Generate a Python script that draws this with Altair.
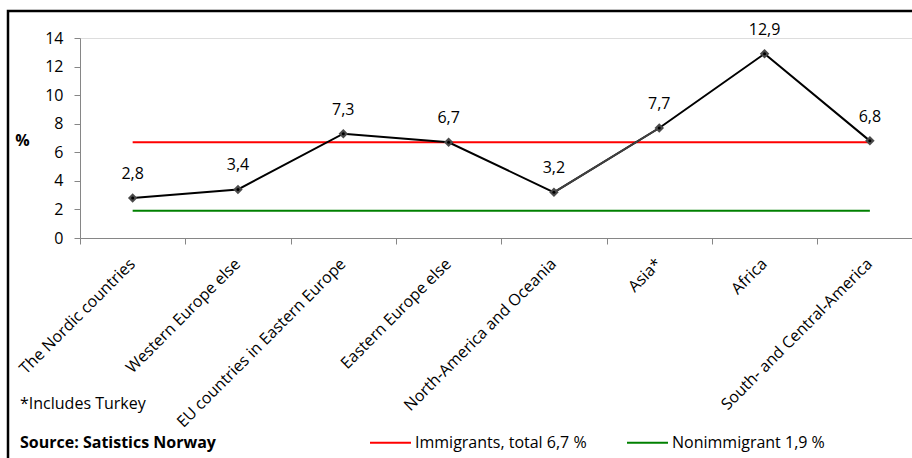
import altair as alt
import pandas as pd

# Share of each origin group (percent)
regions = [
    "The Nordic countries",
    "Western Europe else",
    "EU countries in Eastern Europe",
    "Eastern Europe else",
    "North-America and Oceania",
    "Asia*",
    "Africa",
    "South- and Central-America",
]
values = [2.8, 3.4, 7.3, 6.7, 3.2, 7.7, 12.9, 6.8]
y_ticks = [0, 2, 4, 6, 8, 10, 12, 14]

# Reference levels
ref_names = ["Immigrants, total 6,7 %", "Nonimmigrant 1,9 %"]
ref_values = [6.7, 1.9]
ref_colors = ["#ff0000", "#008000"]

FONT = "Open Sans"
FS = 16
W, H = 832, 200

pts = pd.DataFrame({
    "pos": [i + 0.5 for i in range(len(regions))],
    "region": regions,
    "value": values,
    "label": [f"{v:.1f}".replace(".", ",") for v in values],
})
refs = pd.DataFrame({
    "name": ref_names,
    "value": ref_values,
    "start": [0.5] * len(ref_names),
    "end": [len(regions) - 0.5] * len(ref_names),
})

label_expr = "[" + ",".join(f"'{r}'" for r in regions) + "][datum.value]"

x_scale = alt.Scale(domain=[0, 7.9], nice=False, zero=False)
y_scale = alt.Scale(domain=[0, 14], nice=False)

x_axis = alt.Axis(
    values=list(range(len(regions))),
    labelExpr=label_expr,
    labelOffset=52,
    labelAngle=-45,
    labelAlign="right",
    labelBaseline="middle",
    labelPadding=17,
    labelFontSize=FS,
    labelFont=FONT,
    labelColor="#000000",
    labelOverlap=False,
    labelBound=False,
    labelFlush=False,
    labelLimit=0,
    tickSize=6,
    tickColor="#868686",
    domainColor="#868686",
    grid=False,
    title=None,
)
y_axis = alt.Axis(
    values=y_ticks,
    tickCount=len(y_ticks),
    tickSize=6,
    tickColor="#868686",
    domainColor="#868686",
    labelFontSize=FS,
    labelFont=FONT,
    labelColor="#000000",
    labelPadding=11,
    labelOverlap=False,
    labelFlush=False,
    labelBound=False,
    grid=False,
    title="%",
    titleAngle=0,
    titleX=-58,
    titleY=102,
    titleAlign="center",
    titleBaseline="middle",
    titleFont=FONT,
    titleFontSize=FS,
    titleFontWeight="bold",
)

X = lambda f: alt.X(f, scale=x_scale, axis=x_axis)
Y = lambda f: alt.Y(f, scale=y_scale, axis=y_axis)

base = alt.Chart(pts)

ref_rules = alt.Chart(refs).mark_rule(strokeWidth=2).encode(
    x=X("start:Q"),
    x2="end:Q",
    y=Y("value:Q"),
    color=alt.Color(
        "name:N",
        scale=alt.Scale(domain=ref_names, range=ref_colors),
        legend=alt.Legend(
            orient="none",
            legendX=289,
            legendY=383,
            direction="horizontal",
            title=None,
            symbolType="stroke",
            symbolSize=1681,
            symbolStrokeWidth=2,
            labelFont=FONT,
            labelFontSize=FS,
            labelColor="#000000",
            labelOffset=3,
            columnPadding=36,
            padding=0,
            labelLimit=0,
        ),
    ),
)

line = base.mark_line(color="#000000", strokeWidth=2).encode(x=X("pos:Q"), y=Y("value:Q"))

# The North-America -> Asia segment is drawn in dark grey
seg = alt.Chart(pts.iloc[4:6]).mark_line(color="#404040", strokeWidth=2).encode(
    x=X("pos:Q"), y=Y("value:Q")
)

diamonds = base.mark_point(shape="diamond", filled=True, color="#4a4a4a", size=90, opacity=1).encode(
    x=X("pos:Q"), y=Y("value:Q")
)
centers = base.mark_point(shape="circle", filled=True, color="#000000", size=9, opacity=1).encode(
    x=X("pos:Q"), y=Y("value:Q")
)

labels = base.mark_text(font=FONT, fontSize=FS, color="#000000", dy=-24, baseline="middle").encode(
    x=X("pos:Q"), y=Y("value:Q"), text="label:N"
)

notes = pd.DataFrame({
    "text": ["*Includes Turkey", "Source: Satistics Norway"],
})
note1 = alt.Chart(notes.iloc[[0]]).mark_text(
    font=FONT, fontSize=FS, align="left", baseline="middle", color="#000000"
).encode(x=alt.value(-60), y=alt.value(366), text="text:N")
note2 = alt.Chart(notes.iloc[[1]]).mark_text(
    font=FONT, fontSize=FS, fontWeight="bold", align="left", baseline="middle", color="#000000"
).encode(x=alt.value(-60), y=alt.value(405), text="text:N")

frame = alt.Chart(pd.DataFrame({"k": [0]})).mark_rect(
    filled=False, stroke="#000000", strokeWidth=2.5, fill=None
).encode(
    x=alt.value(-72), y=alt.value(-27), x2=alt.value(W + 30), y2=alt.value(H + 240)
)

chart = alt.layer(
    frame, ref_rules, line, seg, diamonds, centers, labels, note1, note2
).properties(
    width=W,
    height=H,
    padding={"left": 80, "top": 38, "right": 0, "bottom": 220},
    autosize=alt.AutoSizeParams(type="none"),
).configure_view(stroke=None).configure(background="#ffffff")

chart.save("out.html", embed_options={"renderer": "svg", "actions": False})
